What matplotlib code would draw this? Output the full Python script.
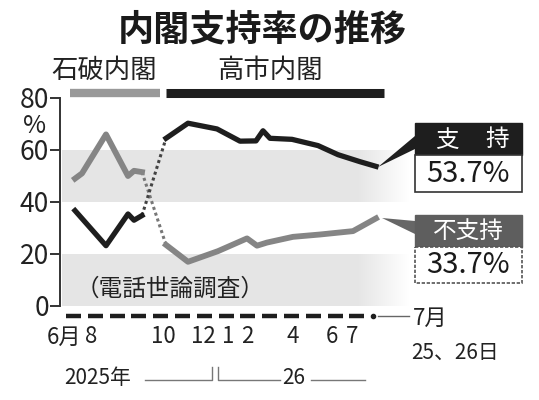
import numpy as np
import matplotlib.pyplot as plt
from matplotlib.patches import Rectangle, Polygon

plt.rcParams['font.family'] = ['Noto Sans CJK JP', 'DejaVu Sans']

# 石破内閣 (x = 調査の位置)
ishiba_sup_x = [75, 82, 106, 128, 134, 142]
ishiba_sup = [49, 51, 66, 50, 52, 51.5]
ishiba_dis_x = [75, 106, 128, 134, 142]
ishiba_dis = [36.7, 23.2, 35.4, 33, 34.8]

# 高市内閣
takaichi_sup_x = [166, 188, 217, 240, 256, 263, 270, 292, 318, 338, 360, 376]
takaichi_sup = [64.5, 70.3, 68.1, 63.4, 63.5, 67.4, 64.5, 64.1, 61.7, 58.2, 55.5, 53.7]
takaichi_dis_x = [166, 188, 218, 247, 257, 267, 293, 320, 353, 376]
takaichi_dis = [23.5, 17.0, 21.1, 26.0, 23.2, 24.4, 26.6, 27.5, 28.8, 33.7]

month_pos = [64, 91, 163, 203, 228, 247, 293, 332, 352]
month_labels = ['6月', '8', '10', '12', '1', '2', '4', '6', '7']
yticks = [0, 20, 40, 60, 80]

BLACK = '#1e1e1e'
GRAY = '#858585'

fig = plt.figure(figsize=(5.39, 4.0), dpi=100)
ax = fig.add_axes([60 / 539, 1 - 306 / 400, 360 / 539, 208 / 400])
ax.set_xlim(60, 420)
ax.set_ylim(0, 80)
ax.patch.set_alpha(0)

# 背景の帯 (右端でぼかす)
grad = np.ones((1, 200, 4))
grad[..., :3] = 0.9
grad[0, :, 3] = np.clip((1 - np.linspace(0, 1, 200)) / 0.15, 0, 1)
for lo, hi in [(0, 20), (40, 60)]:
    ax.imshow(grad, extent=(62, 410, lo, hi), aspect='auto', zorder=0)

# 線
ax.plot(ishiba_sup_x, ishiba_sup, color=GRAY, lw=4.2, solid_joinstyle='round', zorder=3)
ax.plot(ishiba_dis_x, ishiba_dis, color=BLACK, lw=3.8, solid_joinstyle='round', zorder=3)
ax.plot(takaichi_sup_x, takaichi_sup, color=BLACK, lw=3.8, solid_joinstyle='round', zorder=3)
ax.plot(takaichi_dis_x, takaichi_dis, color=GRAY, lw=4.2, solid_joinstyle='round', zorder=3)
ax.plot([ishiba_sup_x[-1], takaichi_dis_x[0]], [ishiba_sup[-1], takaichi_dis[0]],
        color='#777777', lw=2.2, ls=(0, (1, 1)), zorder=2)
ax.plot([ishiba_dis_x[-1], takaichi_sup_x[0]], [ishiba_dis[-1], takaichi_sup[0]],
        color='#444444', lw=2.2, ls=(0, (1, 1)), zorder=2)

# 軸
for s in ['top', 'right', 'bottom']:
    ax.spines[s].set_visible(False)
ax.spines['left'].set_color('#333333')
ax.spines['left'].set_linewidth(1.4)
ax.set_yticks(yticks)
ax.set_yticklabels([str(v) for v in yticks], fontsize=19, color='#222222')
ax.tick_params(axis='y', length=7, width=1.4, color='#333333', pad=1)
ax.set_xticks(month_pos)
ax.set_xticklabels(month_labels, fontsize=16, color='#222222')
ax.tick_params(axis='x', length=0, pad=14)

# 重ね書き用 (ピクセル座標)
ov = fig.add_axes([0, 0, 1, 1])
ov.set_xlim(0, 539)
ov.set_ylim(400, 0)
ov.axis('off')
ov.patch.set_alpha(0)

ov.text(262, 30, '内閣支持率の推移', fontsize=26, fontweight='bold', ha='center', va='center', color='#1a1a1a')
ov.text(104, 70, '石破内閣', fontsize=19, ha='center', va='center', color='#222222')
ov.text(270, 70, '高市内閣', fontsize=19, ha='center', va='center', color='#222222')
ov.plot([70, 160], [93, 93], color='#999999', lw=6, solid_capstyle='butt')
ov.plot([166, 384], [93, 93], color=BLACK, lw=6.5, solid_capstyle='butt')
ov.text(35, 126, '%', fontsize=18, ha='center', va='center', color='#222222')
ov.text(170, 289, '（電話世論調査）', fontsize=17, ha='center', va='center', color='#222222')

# 月の目盛り
for i in range(14):
    x0 = 66 + i * 21.8
    ov.plot([x0, x0 + 15], [316, 316], color=BLACK, lw=3.2, solid_capstyle='butt', zorder=5)
ov.plot([373], [316], 'o', color=BLACK, ms=3)
ov.plot([378, 409], [316, 316], color='#666666', lw=1)
ov.text(413, 318, '7月', fontsize=16, ha='left', va='center', color='#222222')
ov.text(411, 353, '25、26日', fontsize=15, ha='left', va='center', color='#222222')
ov.text(98, 378, '2025年', fontsize=15, ha='center', va='center', color='#222222')
ov.text(294, 378, '26', fontsize=15, ha='center', va='center', color='#222222')
ov.plot([145, 212, 212], [380, 380, 367], color='#777777', lw=1)
ov.plot([218, 218, 280], [367, 380, 380], color='#777777', lw=1)
ov.plot([311, 365], [380, 380], color='#777777', lw=1)

# 凡例ボックス
ov.add_patch(Polygon([(378, 167), (415, 136), (415, 149)], closed=True, fc=BLACK, ec='none'))
ov.add_patch(Polygon([(382, 218), (415, 221), (415, 234)], closed=True, fc='#666666', ec='none'))
ov.add_patch(Rectangle((415, 123), 107, 32, fc=BLACK, ec=BLACK, lw=1))
ov.text(447, 140, '支', fontsize=17, color='white', ha='center', va='center')
ov.text(497, 140, '持', fontsize=17, color='white', ha='center', va='center')
ov.add_patch(Rectangle((415, 155), 107, 37, fc='white', ec='#333333', lw=1.2))
ov.text(468, 174, '53.7%', fontsize=21, color='#1a1a1a', ha='center', va='center')
ov.add_patch(Rectangle((415, 215), 107, 32, fc='#5e5e5e', ec='#5e5e5e', lw=1))
ov.text(468, 231, '不支持', fontsize=17, color='white', ha='center', va='center')
ov.add_patch(Rectangle((415, 247), 107, 36, fc='white', ec='#555555', lw=1.2, ls=(0, (2, 1))))
ov.text(468, 265, '33.7%', fontsize=21, color='#1a1a1a', ha='center', va='center')

fig.savefig('out.png', dpi=100)
